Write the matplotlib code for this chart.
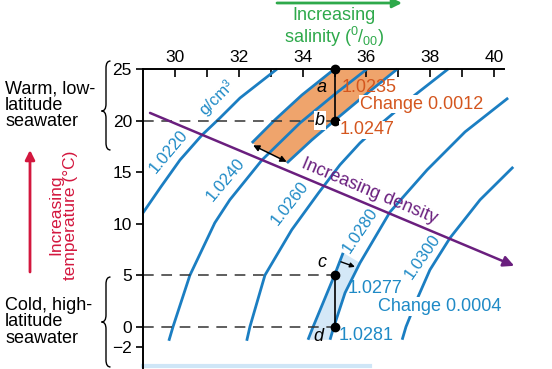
import numpy as np
import matplotlib
matplotlib.use("Agg")
import matplotlib.pyplot as plt
from matplotlib.path import Path
from matplotlib.patches import PathPatch
from matplotlib.transforms import Affine2D

plt.rcParams['font.family'] = ['Liberation Sans', 'DejaVu Sans']
plt.rcParams['mathtext.fontset'] = 'custom'
plt.rcParams['mathtext.rm'] = 'Liberation Sans'

# isopycnals: salinity (S) and temperature (T)
iso_1022_s = [29.0, 29.56, 30.16, 30.85, 31.41, 32.04, 32.92, 33.2]
iso_1022_t = [11.05, 13.57, 16.18, 18.60, 20.25, 22.19, 24.32, 25.0]
iso_1024_s = [29.81, 29.94, 30.47, 31.25, 31.72, 32.73, 33.92, 35.02, 36.02]
iso_1024_t = [-1.36, 0.0, 5.0, 10.08, 12.31, 16.18, 19.77, 22.58, 25.0]
iso_10235_s = [32.41, 33.13, 33.98, 35.0]
iso_10235_t = [17.83, 20.06, 22.48, 25.0]
iso_10247_s = [33.51, 34.29, 35.0, 35.96, 36.97]
iso_10247_t = [15.89, 18.12, 20.0, 22.48, 25.0]
iso_1026_s = [32.25, 32.35, 32.82, 33.66, 34.50, 35.17, 35.80, 36.52, 37.52, 38.56]
iso_1026_t = [-1.36, 0.0, 5.0, 9.40, 12.98, 15.70, 17.83, 19.86, 22.48, 25.0]
iso_10277_s = [34.17, 34.33, 35.0, 35.27]
iso_10277_t = [-1.26, 0.0, 5.0, 7.17]
iso_1028_s = [34.86, 34.98, 35.33, 35.80, 36.74, 37.90, 39.09, 40.44]
iso_1028_t = [-1.26, 0.0, 3.29, 6.20, 11.14, 15.21, 18.90, 22.19]
iso_1030_s = [37.12, 37.24, 37.62, 37.99, 38.62, 39.56, 40.60]
iso_1030_t = [-1.26, 0.0, 2.91, 5.52, 8.62, 12.31, 15.50]

curve_labels = ['1.0220', 'g/cm³', '1.0240', '1.0260', '1.0280', '1.0300']
label_s = [29.8, 31.3, 31.6, 33.6, 35.82, 37.75]
label_t = [17.0, 22.2, 14.3, 12.0, 9.3, 6.8]
label_rot = [50, 45, 50, 52, 56, 55]

# water samples a, b, c, d
pt_names = ['a', 'b', 'c', 'd']
pt_s = [35, 35, 35, 35]
pt_t = [25, 20, 5, 0]
pt_dens = ['1.0235', '1.0247', '1.0277', '1.0281']

density_arrow_s = [29.22, 40.63]
density_arrow_t = [20.74, 5.91]
band_arrow = [(32.45, 17.6), (33.5, 16.0)]
c_arrow = [(35.2, 6.3), (35.64, 5.81)]

yticks = [25, 20, 15, 10, 5, 0, -2]
ytick_labels = ['25', '20', '15', '10', '5', '0', '−2']

blue = '#1B7EC2'
blue_txt = '#1F8AC6'
orange = '#EFA46C'
orange_txt = '#D4561E'
purple = '#6A1F7E'
red = '#D3173E'
green = '#2EA94B'

fig = plt.figure(figsize=(5.52, 3.69), dpi=100)
ax = fig.add_axes([143/552, 1 - 368/369, 383/552, 299/369])
ax.set_xlim(29, 41)
ax.set_ylim(-4, 25)

# shaded bands
band_s = iso_10235_s + iso_10247_s[::-1]
band_t = iso_10235_t + iso_10247_t[::-1]
ax.fill(band_s, band_t, color=orange, lw=0, zorder=1)
lb_s = iso_10277_s + [s for s, t in zip(iso_1028_s, iso_1028_t) if t <= 6.2][::-1]
lb_t = iso_10277_t + [t for t in iso_1028_t if t <= 6.2][::-1]
ax.fill(lb_s, lb_t, color='#D4E8F7', lw=0, zorder=1)

for s, t in [(iso_1022_s, iso_1022_t), (iso_1024_s, iso_1024_t), (iso_10235_s, iso_10235_t),
             (iso_10247_s, iso_10247_t), (iso_1026_s, iso_1026_t), (iso_10277_s, iso_10277_t),
             (iso_1028_s, iso_1028_t), (iso_1030_s, iso_1030_t)]:
    ax.plot(s, t, color=blue, lw=2.0, solid_capstyle='butt', solid_joinstyle='round', zorder=2,
            clip_on=False)

for txt, s, t, r in zip(curve_labels, label_s, label_t, label_rot):
    ax.text(s, t, txt, rotation=r, rotation_mode='anchor', ha='center', va='center',
            color=blue_txt, fontsize=12, zorder=4)

# density arrow
ax.annotate('', xy=(density_arrow_s[1], density_arrow_t[1]),
            xytext=(density_arrow_s[0], density_arrow_t[0]),
            arrowprops=dict(arrowstyle='-|>', color=purple, lw=1.8, mutation_scale=16,
                            shrinkA=0, shrinkB=0), annotation_clip=False, zorder=3)
ax.text(36.1, 13.15, 'Increasing density', rotation=-22.7, rotation_mode='anchor',
        ha='center', va='center', color=purple, fontsize=13, zorder=4)

# dashed guides and sample lines
for t in [20, 5, 0]:
    ax.plot([29, 35], [t, t], color='#333333', lw=1.1, dashes=(7, 5), zorder=2)
ax.plot(pt_s[:2], pt_t[:2], color='black', lw=1.2, zorder=5, clip_on=False)
ax.plot(pt_s[2:], pt_t[2:], color='black', lw=1.2, zorder=5)
ax.plot(pt_s, pt_t, 'o', color='black', ms=6, zorder=6, clip_on=False)

name_off = [(-0.4, -1.75), (-0.45, 0.0), (-0.4, 1.2), (-0.5, -0.95)]
for n, s, t, (dx, dy) in zip(pt_names, pt_s, pt_t, name_off):
    ax.text(s + dx, t + dy, n, style='italic', fontsize=13, ha='center', va='center',
            zorder=6, bbox=dict(facecolor='white', edgecolor='none', pad=0.5) if n == 'b' else None)

ax.text(35.22, 23.25, pt_dens[0], color=orange_txt, fontsize=13, va='center', zorder=6)
ax.text(35.8, 21.6, 'Change 0.0012', color=orange_txt, fontsize=13, va='center', zorder=6,
        bbox=dict(facecolor='white', edgecolor='none', pad=0.5))
ax.text(35.17, 19.1, pt_dens[1], color=orange_txt, fontsize=13, va='center', zorder=6,
        bbox=dict(facecolor='white', edgecolor='none', pad=0.5))
ax.text(35.4, 3.75, pt_dens[2], color=blue_txt, fontsize=13, va='center', zorder=6)
ax.text(36.35, 1.95, 'Change 0.0004', color=blue_txt, fontsize=13, va='center', zorder=6,
        bbox=dict(facecolor='white', edgecolor='none', pad=0.5))
ax.text(35.12, -0.85, pt_dens[3], color=blue_txt, fontsize=13, va='center', zorder=6)

ax.annotate('', xy=band_arrow[1], xytext=band_arrow[0],
            arrowprops=dict(arrowstyle='<|-|>', color='black', lw=1.1, mutation_scale=9,
                            shrinkA=0, shrinkB=0), zorder=5)
ax.annotate('', xy=c_arrow[1], xytext=c_arrow[0],
            arrowprops=dict(arrowstyle='-|>', color='black', lw=1.0, mutation_scale=7,
                            shrinkA=0, shrinkB=0), zorder=5)

ax.plot([29, 36.1], [-3.85, -3.85], color='#CFE6F7', lw=3, clip_on=False, zorder=1)

# axes styling
for side in ['bottom', 'right']:
    ax.spines[side].set_visible(False)
ax.spines['top'].set_bounds(29, 40.3)
ax.spines['left'].set_bounds(-4, 25)
ax.spines['top'].set_linewidth(1.4)
ax.spines['left'].set_linewidth(1.4)
ax.xaxis.tick_top()
ax.set_xticks(range(30, 41, 2))
ax.set_xticks(range(31, 40, 2), minor=True)
ax.tick_params(axis='x', which='both', direction='in', length=6, width=1.2, pad=3, labelsize=12.5)
ax.set_yticks(yticks)
ax.set_yticklabels(ytick_labels)
ax.tick_params(axis='y', direction='out', length=5, width=1.2, pad=3, labelsize=12.5)
ax.patch.set_alpha(0)

# side annotations (figure pixels)
W, H = 552, 369
fig.text(5/W, 1 - 105/H, 'Warm, low-\nlatitude\nseawater', fontsize=13, ha='left', va='center',
         linespacing=0.95)
fig.text(5/W, 1 - 322/H, 'Cold, high-\nlatitude\nseawater', fontsize=13, ha='left', va='center',
         linespacing=0.95)
fig.text(63/W, 1 - 215/H, 'Increasing\ntemperature (°C)', fontsize=12.5, color=red,
         rotation=90, ha='center', va='center', multialignment='center', linespacing=0.95)
ax.annotate('', xy=(30, H - 150), xytext=(30, H - 272), xycoords='figure pixels',
            arrowprops=dict(arrowstyle='-|>', color=red, lw=2, mutation_scale=14,
                            shrinkA=0, shrinkB=0))
fig.text(334/W, 1 - 28/H, 'Increasing\nsalinity ($\\mathregular{^{0}/_{00}}$)', fontsize=13,
         color=green, ha='center', va='center', linespacing=1.0)
ax.annotate('', xy=(402, H - 3), xytext=(277, H - 3), xycoords='figure pixels',
            arrowprops=dict(arrowstyle='-|>', color=green, lw=2, mutation_scale=14,
                            shrinkA=0, shrinkB=0))


def brace(x, y_top, y_bot, y_mid, h=4.5, r=7):
    yt, yb, ym = H - y_top, H - y_bot, H - y_mid
    verts = [(x + h, yt), (x, yt), (x, yt - r), (x, ym + r), (x, ym), (x - h, ym),
             (x, ym), (x, ym - r), (x, yb + r), (x, yb), (x + h, yb)]
    codes = [Path.MOVETO, Path.CURVE3, Path.CURVE3, Path.LINETO, Path.CURVE3, Path.CURVE3,
             Path.CURVE3, Path.CURVE3, Path.LINETO, Path.CURVE3, Path.CURVE3]
    tr = Affine2D().scale(1/W, 1/H) + fig.transFigure
    fig.add_artist(PathPatch(Path(verts, codes), fill=False, lw=1.0, color='black', transform=tr))


brace(106, 61, 150, 111)
brace(106, 277, 367, 322)

fig.savefig('out.png', dpi=100)
